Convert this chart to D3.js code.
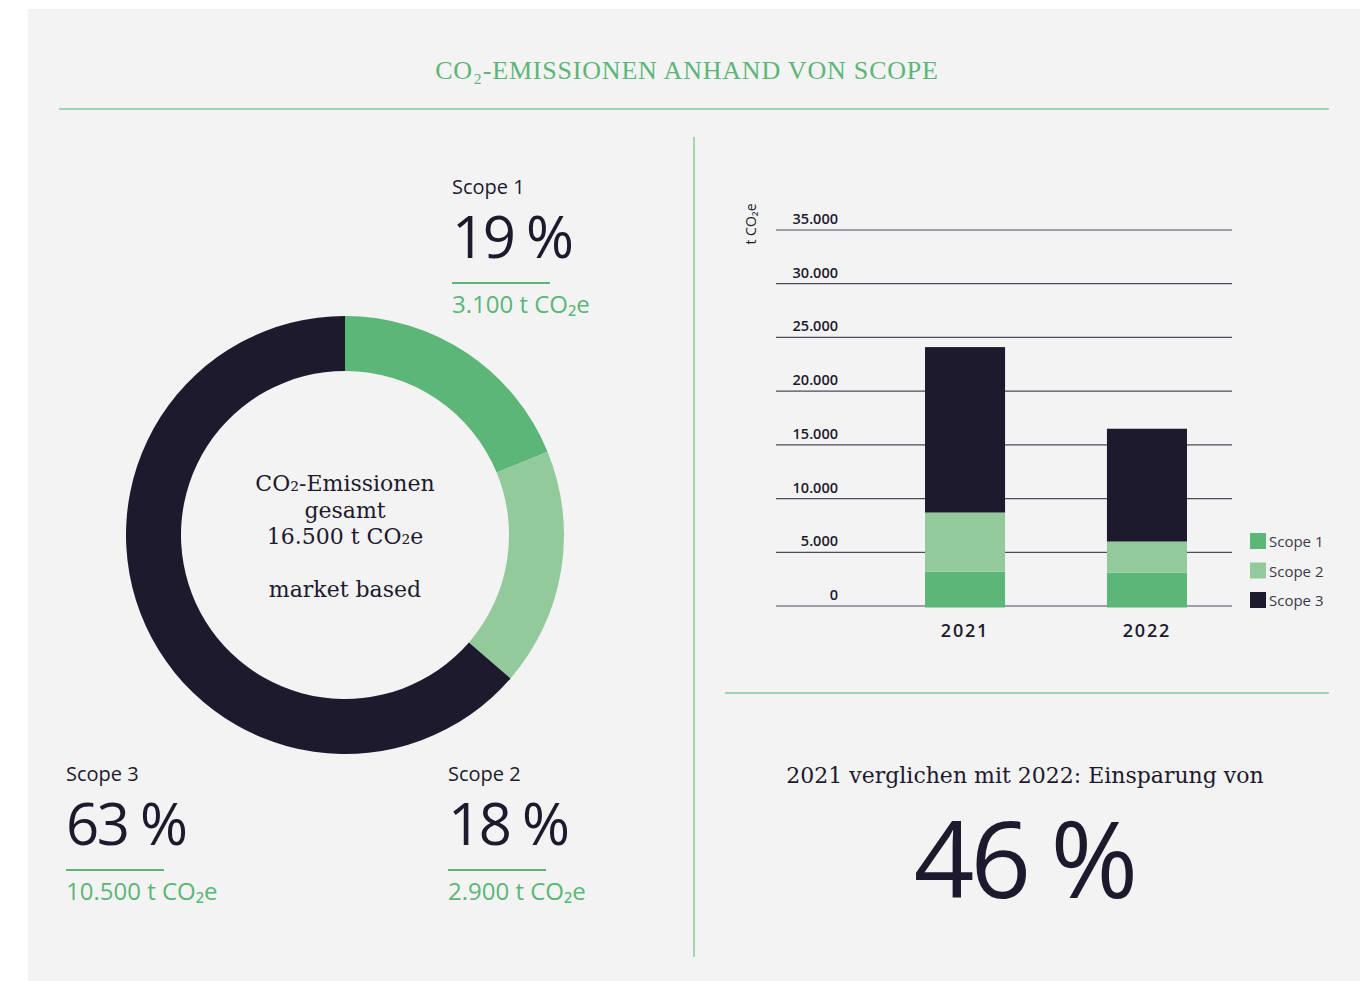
<!DOCTYPE html>
<html>
<head>
<meta charset="utf-8">
<script src="https://cdn.jsdelivr.net/npm/d3@7"></script>
<style>
  body { margin: 0; background: #fff; }
  svg { display: block; }
  .serif { font-family: "Liberation Serif", "DejaVu Serif", serif; }
  .serif2 { font-family: "DejaVu Serif", "Liberation Serif", serif; }
  .sans { font-family: "Open Sans", "Noto Sans", sans-serif; }
</style>
</head>
<body>
<svg id="chart" width="1371" height="981"></svg>
<script>
// ---- data ----
var scopes = ["Scope 1", "Scope 2", "Scope 3"];
var scopeTotals2022 = [3100, 2900, 10500];
var scopePercents = ["19 %", "18 %", "63 %"];
var scopeLabels = ["3.100 t CO₂e", "2.900 t CO₂e", "10.500 t CO₂e"];
var years = ["2021", "2022"];
var seriesScope1 = [3200, 3100];
var seriesScope2 = [5500, 2900];
var seriesScope3 = [15400, 10500];
var yTicks = [0, 5000, 10000, 15000, 20000, 25000, 30000, 35000];
var centerLines = ["CO₂-Emissionen", "gesamt", "16.500 t CO₂e", "", "market based"];
var savingText = "2021 verglichen mit 2022: Einsparung von";
var savingValue = "46 %";

var colors = ["#5bb677", "#93ca9b", "#1d1a2e"];
var dark = "#1d1a2e";
var green = "#5bb677";
var lineGreen = "#a2d4ae";

var svg = d3.select("#chart");

svg.append("rect")
  .attr("x", 28).attr("y", 9)
  .attr("width", 1332).attr("height", 972)
  .attr("fill", "#f3f3f3");

// title
svg.append("text")
  .attr("class", "serif")
  .attr("x", 687).attr("y", 79)
  .attr("text-anchor", "middle")
  .attr("font-size", 26)
  .attr("fill", green)
  .attr("letter-spacing", 0.8)
  .text("CO₂-EMISSIONEN ANHAND VON SCOPE");

svg.append("line")
  .attr("x1", 59).attr("x2", 1329).attr("y1", 109).attr("y2", 109)
  .attr("stroke", lineGreen).attr("stroke-width", 2);

svg.append("line")
  .attr("x1", 694).attr("x2", 694).attr("y1", 137).attr("y2", 957)
  .attr("stroke", lineGreen).attr("stroke-width", 2);

svg.append("line")
  .attr("x1", 725).attr("x2", 1329).attr("y1", 693).attr("y2", 693)
  .attr("stroke", lineGreen).attr("stroke-width", 2);

// ---- donut ----
var donutData = scopes.map(function(s, i){ return {name: s, value: scopeTotals2022[i], i: i}; });
var pie = d3.pie().sort(null).value(function(d){ return d.value; });
var arc = d3.arc().innerRadius(164).outerRadius(219);

var donut = svg.append("g").attr("transform", "translate(345,535)");
donut.selectAll("path")
  .data(pie(donutData))
  .enter().append("path")
  .attr("d", arc)
  .attr("fill", function(d){ return colors[d.data.i]; });

donut.append("text")
  .attr("class", "serif2")
  .attr("text-anchor", "middle")
  .attr("font-size", 22)
  .attr("fill", dark)
  .selectAll("tspan")
  .data(centerLines)
  .enter().append("tspan")
  .attr("x", 0)
  .attr("y", function(d, i){ return -44 + i * 26.5; })
  .text(function(d){ return d; });

// scope labels around the donut
var labelPos = [[452, 194], [448, 781], [66, 781]];
scopes.forEach(function(s, i){
  var g = svg.append("g").attr("transform", "translate(" + labelPos[i][0] + "," + labelPos[i][1] + ")");
  g.append("text").attr("class", "sans")
    .attr("font-size", 20).attr("fill", dark)
    .text(s);
  g.append("text").attr("class", "sans")
    .attr("y", 64).attr("font-size", 58).attr("fill", dark)
    .attr("letter-spacing", -2.5)
    .text(scopePercents[i]);
  g.append("line")
    .attr("x1", 0).attr("x2", 98).attr("y1", 89).attr("y2", 89)
    .attr("stroke", green).attr("stroke-width", 2);
  g.append("text").attr("class", "sans")
    .attr("y", 119).attr("font-size", 24).attr("fill", green)
    .text(scopeLabels[i]);
});

// ---- stacked bars ----
var y = d3.scaleLinear().domain([0, 35000]).range([606, 230]);
var x = d3.scaleBand().domain(years).range([925, 1187]).paddingInner(0.56).paddingOuter(0);

var tableRows = years.map(function(yr, i){
  return {year: yr, "Scope 1": seriesScope1[i], "Scope 2": seriesScope2[i], "Scope 3": seriesScope3[i]};
});
var stacked = d3.stack().keys(scopes)(tableRows);

var fmt = d3.formatLocale({decimal: ",", thousands: ".", grouping: [3], currency: ["", "€"]}).format(",d");

var grid = svg.append("g");
grid.selectAll("line")
  .data(yTicks)
  .enter().append("line")
  .attr("x1", 776).attr("x2", 1232)
  .attr("y1", function(d){ return y(d); })
  .attr("y2", function(d){ return y(d); })
  .attr("stroke", "#4b4a5a").attr("stroke-width", 1.2);

grid.selectAll("text")
  .data(yTicks)
  .enter().append("text")
  .attr("class", "sans")
  .attr("x", 838)
  .attr("y", function(d){ return y(d) - 6; })
  .attr("text-anchor", "end")
  .attr("font-size", 14.5)
  .attr("font-weight", 600)
  .attr("fill", dark)
  .text(function(d){ return fmt(d); });

svg.append("g").selectAll("g")
  .data(stacked)
  .enter().append("g")
  .attr("fill", function(d, i){ return colors[i]; })
  .selectAll("rect")
  .data(function(d){ return d; })
  .enter().append("rect")
  .attr("x", function(d){ return x(d.data.year); })
  .attr("width", x.bandwidth())
  .attr("y", function(d){ return y(d[1]); })
  .attr("height", function(d){ return y(d[0]) - y(d[1]) + (d[0] === 0 ? 1.5 : 0); });

svg.append("g").selectAll("text")
  .data(years)
  .enter().append("text")
  .attr("class", "sans")
  .attr("x", function(d){ return x(d) + x.bandwidth() / 2; })
  .attr("y", 637)
  .attr("text-anchor", "middle")
  .attr("font-size", 18)
  .attr("font-weight", 600)
  .attr("letter-spacing", 1.8)
  .attr("fill", dark)
  .text(function(d){ return d; });

svg.append("text")
  .attr("class", "sans")
  .attr("transform", "translate(756,224) rotate(-90)")
  .attr("text-anchor", "middle")
  .attr("font-size", 14)
  .attr("fill", dark)
  .text("t CO₂e");

// legend
var legend = svg.append("g").attr("transform", "translate(1250,533)");
var items = legend.selectAll("g")
  .data(scopes)
  .enter().append("g")
  .attr("transform", function(d, i){ return "translate(0," + (i * 29.5) + ")"; });
items.append("rect")
  .attr("width", 16).attr("height", 16)
  .attr("fill", function(d, i){ return colors[i]; });
items.append("text")
  .attr("class", "sans")
  .attr("x", 19).attr("y", 14)
  .attr("font-size", 15)
  .attr("fill", "#3a3848")
  .text(function(d){ return d; });

// ---- savings ----
svg.append("text")
  .attr("class", "serif2")
  .attr("x", 1025).attr("y", 783)
  .attr("text-anchor", "middle")
  .attr("font-size", 22)
  .attr("fill", dark)
  .text(savingText);

svg.append("text")
  .attr("class", "sans")
  .attr("x", 1024).attr("y", 898)
  .attr("text-anchor", "middle")
  .attr("font-size", 106)
  .attr("letter-spacing", -4)
  .attr("fill", dark)
  .text(savingValue);
</script>
</body>
</html>
